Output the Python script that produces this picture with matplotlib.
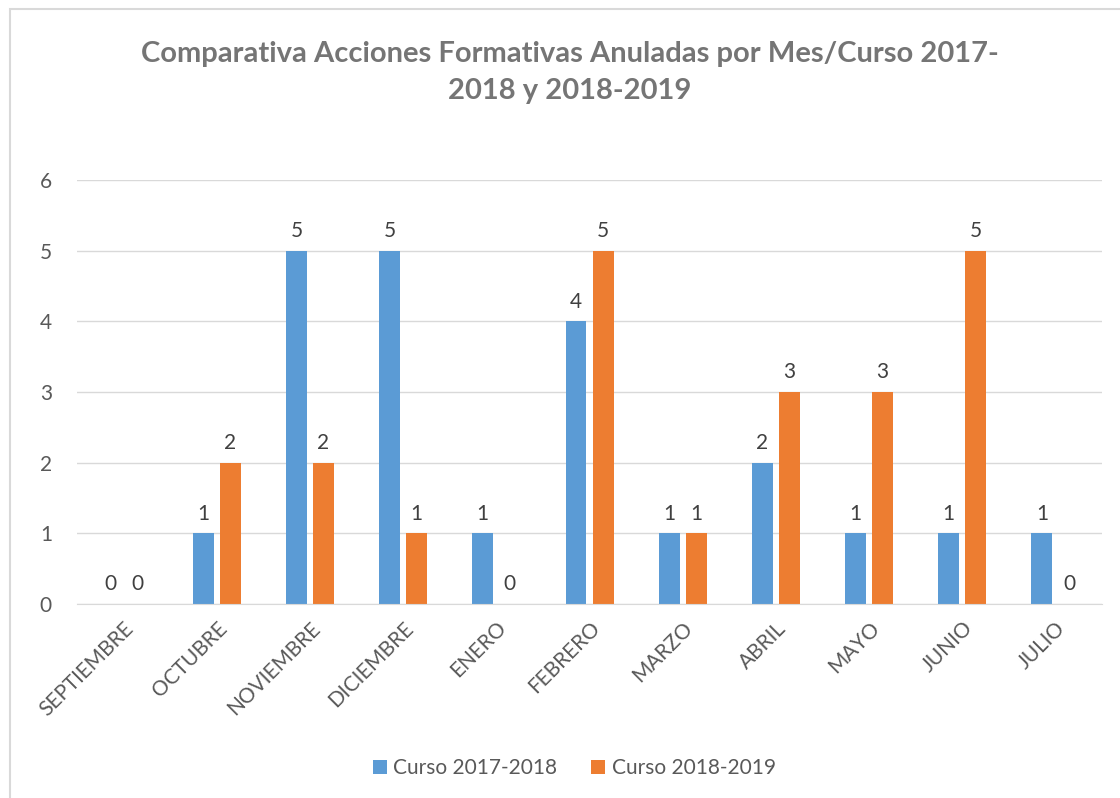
import numpy as np
import matplotlib.pyplot as plt
from matplotlib.patches import Rectangle

## Data
meses = ['SEPTIEMBRE', 'OCTUBRE', 'NOVIEMBRE', 'DICIEMBRE', 'ENERO', 'FEBRERO',
         'MARZO', 'ABRIL', 'MAYO', 'JUNIO', 'JULIO']
curso_1718 = [0, 1, 5, 5, 1, 4, 1, 2, 1, 1, 1]
curso_1819 = [0, 2, 2, 1, 0, 5, 1, 3, 3, 5, 0]
series_names = ['Curso 2017-2018', 'Curso 2018-2019']

azul = '#5B9BD5'
naranja = '#ED7D31'
gris_txt = '#595959'

plt.rcParams['font.family'] = ['Lato', 'DejaVu Sans']

fig = plt.figure(figsize=(11.2, 7.98), dpi=100)
ax = fig.add_axes([0.06875, 0.2431, 0.9152, 0.5313])

x = np.arange(len(meses))
w = 0.225
off = 0.145
b1 = ax.bar(x - off, curso_1718, w, color=azul, label=series_names[0])
b2 = ax.bar(x + off, curso_1819, w, color=naranja, label=series_names[1])

# value labels above every bar (zeros too)
for bars, vals in ((b1, curso_1718), (b2, curso_1819)):
    for r, v in zip(bars, vals):
        ax.annotate(str(v), (r.get_x() + r.get_width() / 2, v),
                    xytext=(0, 7), textcoords='offset points',
                    ha='center', va='bottom', fontsize=15, color='#404040')

ax.set_xlim(-0.5, len(meses) - 0.5)
ax.set_ylim(0, 6)
ax.set_yticks(range(0, 7))
ax.yaxis.grid(True, color='#D9D9D9', linewidth=1)
ax.set_axisbelow(True)
for s in ['top', 'right', 'left']:
    ax.spines[s].set_visible(False)
ax.spines['bottom'].set_color('#D9D9D9')
ax.tick_params(axis='both', length=0, labelsize=15, labelcolor=gris_txt)
ax.tick_params(axis='y', pad=18)
ax.set_xticks(x)
ax.set_xticklabels(meses, rotation=45, ha='right', va='top', rotation_mode='anchor')
ax.tick_params(axis='x', pad=10)

fig.text(0.509, 0.909, 'Comparativa Acciones Formativas Anuladas por Mes/Curso 2017-\n2018 y 2018-2019',
         ha='center', va='center', fontsize=21, fontweight='bold', color='#757575',
         linespacing=1.5)

ax.legend(loc='center', bbox_to_anchor=(0.485, -0.387), ncol=2, frameon=False,
          fontsize=15, labelcolor=gris_txt, handlelength=0.7, handleheight=0.7,
          columnspacing=1.6, handletextpad=0.3)

# outer chart border
fig.patches.append(Rectangle((10 / 1120, -0.1), 1.2, 1 - 9 / 798 + 0.1,
                             transform=fig.transFigure, fill=False,
                             edgecolor='#D9D9D9', linewidth=1.5))

fig.savefig('out.png', dpi=100)
